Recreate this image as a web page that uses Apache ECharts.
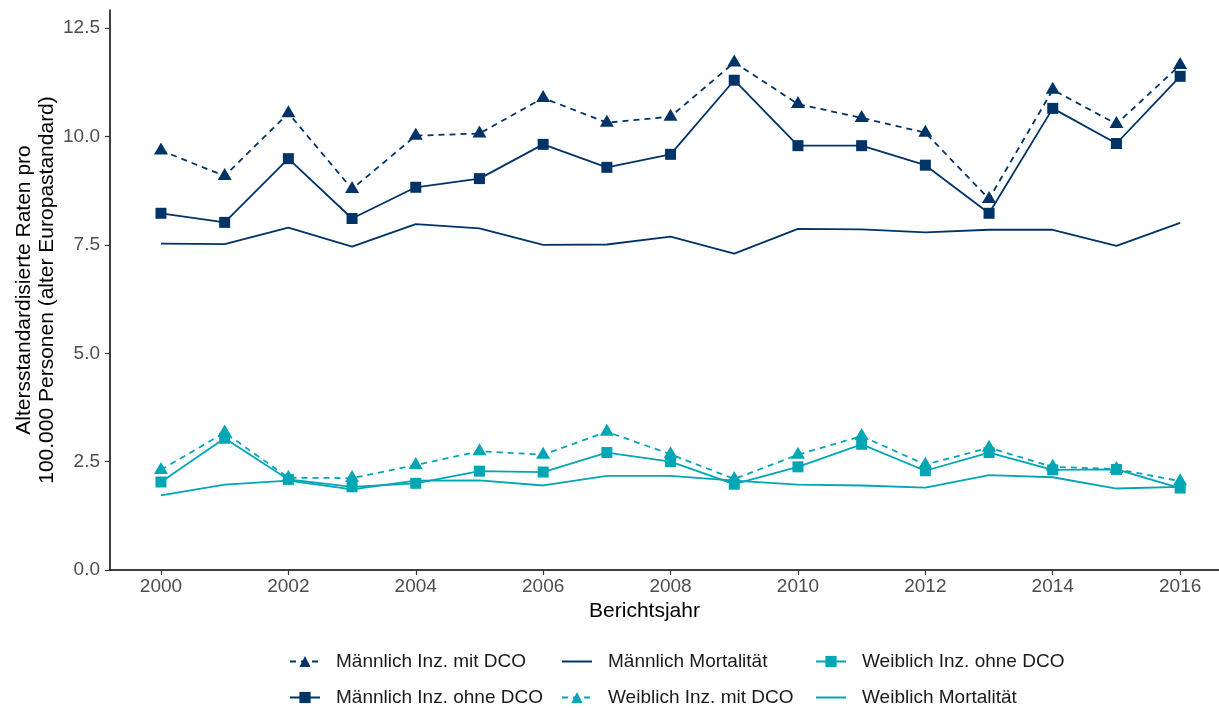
<!DOCTYPE html>
<html>
<head>
<meta charset="utf-8">
<script src="https://cdn.jsdelivr.net/npm/echarts@6/dist/echarts.min.js"></script>
<style>html,body{margin:0;padding:0;background:#fff}#c{width:1219px;height:708px}</style>
</head>
<body>
<div id="c"></div>
<script>
const years = [2000,2001,2002,2003,2004,2005,2006,2007,2008,2009,2010,2011,2012,2013,2014,2015,2016];
const maennlichMitDCO  = [9.68, 9.09, 10.54, 8.79, 10.02, 10.07, 10.89, 10.32, 10.46, 11.71, 10.75, 10.43, 10.09, 8.56, 11.08, 10.29, 11.65];
const maennlichOhneDCO = [8.23, 8.02, 9.49, 8.11, 8.83, 9.03, 9.82, 9.29, 9.59, 11.30, 9.79, 9.79, 9.34, 8.23, 10.65, 9.84, 11.39];
const maennlichMort    = [7.53, 7.52, 7.90, 7.46, 7.98, 7.88, 7.50, 7.51, 7.69, 7.30, 7.87, 7.86, 7.79, 7.85, 7.85, 7.48, 8.01];
const weiblichMitDCO   = [2.31, 3.17, 2.13, 2.12, 2.42, 2.74, 2.66, 3.19, 2.67, 2.10, 2.66, 3.09, 2.43, 2.82, 2.38, 2.33, 2.05];
const weiblichOhneDCO  = [2.03, 3.04, 2.09, 1.92, 2.00, 2.28, 2.26, 2.71, 2.50, 1.98, 2.38, 2.90, 2.29, 2.71, 2.31, 2.32, 1.89];
const weiblichMort     = [1.72, 1.97, 2.06, 1.86, 2.06, 2.07, 1.95, 2.17, 2.17, 2.06, 1.97, 1.95, 1.90, 2.19, 2.14, 1.88, 1.92];
const xTicks = [2000,2002,2004,2006,2008,2010,2012,2014,2016];
const yTicks = [0, 2.5, 5, 7.5, 10, 12.5];
const names = ['Männlich Inz. mit DCO','Männlich Inz. ohne DCO','Männlich Mortalität','Weiblich Inz. mit DCO','Weiblich Inz. ohne DCO','Weiblich Mortalität'];

const NAVY = '#003366', TEAL = '#00A6B4';
const FONT = '"Liberation Sans", Arial, sans-serif';
const pairs = arr => years.map((y,i)=>[y, arr[i]]);

function mk(name, data, color, kind, dashed){
  return {
    name, type:'line', data: pairs(data),
    lineStyle:{color, width:1.8, type: dashed ? [6,5] : 'solid'},
    itemStyle:{color},
    symbol: kind==='tri' ? 'triangle' : (kind==='sq' ? 'rect' : 'none'),
    showSymbol: kind!=='none',
    symbolSize: kind==='tri' ? [14,12] : 11,
    symbolOffset: kind==='tri' ? [0,-2] : [0,0],
    animation:false, emphasis:{disabled:true}, z: kind==='none'?2:3
  };
}

const chart = echarts.init(document.getElementById('c'), null, {renderer:'canvas'});
const legendBase = {
  orient:'vertical', itemWidth:30, itemHeight:14, itemGap:17, padding:0, height:60,
  textStyle:{fontFamily:FONT, fontSize:19, color:'#1a1a1a', padding:[0,0,0,11]},
  selectedMode:false, top:652
};
const noSym = n => ({name:n, itemStyle:{color:'rgba(0,0,0,0)', borderColor:'rgba(0,0,0,0)', borderWidth:0}});
chart.setOption({
  backgroundColor:'#fff',
  textStyle:{fontFamily:FONT},
  grid:{left:110, right:0, top:10, bottom:138, containLabel:false, outerBoundsMode:'none'},
  xAxis:{
    type:'value', min:1999.2, max:2016.61,
    name:'Berichtsjahr', nameLocation:'middle', nameGap:31, nameMoveOverlap:false,
    nameTextStyle:{fontFamily:FONT, fontSize:21, color:'#000', padding:[0,40,0,0]},
    axisLine:{show:true, lineStyle:{color:'#000', width:1.5}},
    axisTick:{show:true, length:5, lineStyle:{color:'#333', width:1.2}, customValues:xTicks},
    axisLabel:{fontFamily:FONT, fontSize:19, color:'#4D4D4D', margin:7, customValues:xTicks, formatter:v=>String(v)},
    splitLine:{show:false}
  },
  yAxis:{
    type:'value', min:0, max:12.92,
    name:'Altersstandardisierte Raten pro\n100.000 Personen (alter Europastandard)',
    nameLocation:'middle', nameRotate:90, nameGap:51, nameMoveOverlap:false,
    nameTextStyle:{fontFamily:FONT, fontSize:21, color:'#000', lineHeight:23},
    axisLine:{show:true, lineStyle:{color:'#000', width:1.5}},
    axisTick:{show:true, length:5, lineStyle:{color:'#333', width:1.2}, customValues:yTicks},
    axisLabel:{fontFamily:FONT, fontSize:19, color:'#4D4D4D', margin:10, customValues:yTicks, formatter:v=>v.toFixed(1)},
    splitLine:{show:false}
  },
  legend:[
    Object.assign({}, legendBase, {left:289, data:[names[0], names[1]]}),
    Object.assign({}, legendBase, {left:561, data:[noSym(names[2]), names[3]]}),
    Object.assign({}, legendBase, {left:815, data:[names[4], noSym(names[5])]})
  ],
  series:[
    mk(names[0], maennlichMitDCO, NAVY, 'tri', true),
    mk(names[1], maennlichOhneDCO, NAVY, 'sq', false),
    mk(names[2], maennlichMort, NAVY, 'none', false),
    mk(names[3], weiblichMitDCO, TEAL, 'tri', true),
    mk(names[4], weiblichOhneDCO, TEAL, 'sq', false),
    mk(names[5], weiblichMort, TEAL, 'none', false)
  ]
});
</script>
</body>
</html>
